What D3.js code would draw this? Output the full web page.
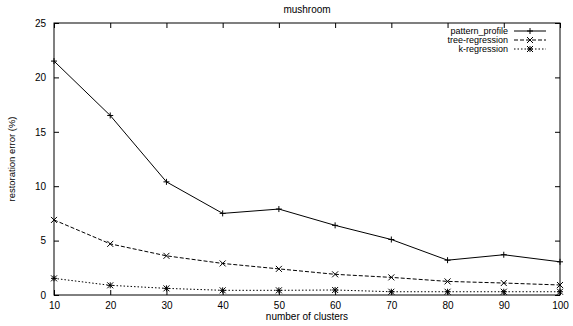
<!DOCTYPE html>
<html>
<head>
<meta charset="utf-8">
<script src="https://cdn.jsdelivr.net/npm/d3@7"></script>
<style>
  body { margin: 0; background: #fff; }
  text { font-family: "Liberation Sans", Arial, sans-serif; }
</style>
</head>
<body>
<div id="chart"></div>
<script>
// mushroom: restoration error vs number of clusters
const clusters = [10, 20, 30, 40, 50, 60, 70, 80, 90, 100];
const patternProfile = [21.5, 16.5, 10.4, 7.5, 7.9, 6.4, 5.1, 3.2, 3.7, 3.05];
const treeRegression = [6.9, 4.7, 3.6, 2.9, 2.4, 1.9, 1.62, 1.25, 1.1, 0.92];
const kRegression = [1.53, 0.89, 0.61, 0.43, 0.43, 0.46, 0.3, 0.3, 0.3, 0.3];
const xTicks = [10, 20, 30, 40, 50, 60, 70, 80, 90, 100];
const yTicks = [0, 5, 10, 15, 20, 25];

const W = 573, H = 326;
const margin = { top: 23, right: 13, bottom: 31, left: 54 };
const iw = W - margin.left - margin.right;
const ih = H - margin.top - margin.bottom;

const svg = d3.select('#chart').append('svg')
  .attr('width', W)
  .attr('height', H);

const g = svg.append('g')
  .attr('transform', `translate(${margin.left},${margin.top})`);

const x = d3.scaleLinear().domain([10, 100]).range([0, iw]);
const y = d3.scaleLinear().domain([0, 25]).range([ih, 0]);

// Axes (gnuplot style: inward ticks, mirrored)
const tk = 5;
const axisStyle = sel => {
  sel.select('.domain').remove();
  sel.selectAll('line').attr('stroke', '#000').attr('stroke-width', 1);
  sel.selectAll('text').attr('font-size', 10).attr('fill', '#000');
};

g.append('g')
  .attr('transform', `translate(0,${ih})`)
  .call(d3.axisBottom(x).tickValues(xTicks).tickSize(-tk).tickPadding(7))
  .call(axisStyle);
g.append('g')
  .call(d3.axisTop(x).tickValues(xTicks).tickSize(-tk).tickFormat(''))
  .call(axisStyle);
g.append('g')
  .call(d3.axisLeft(y).tickValues(yTicks).tickSize(-tk).tickPadding(8))
  .call(axisStyle);
g.append('g')
  .attr('transform', `translate(${iw},0)`)
  .call(d3.axisRight(y).tickValues(yTicks).tickSize(-tk).tickFormat(''))
  .call(axisStyle);

g.append('rect')
  .attr('width', iw)
  .attr('height', ih)
  .attr('fill', 'none')
  .attr('stroke', '#000')
  .attr('stroke-width', 1);

// Point symbols
const sym = {
  plus: s => `M${-s},0H${s}M0,${-s}V${s}`,
  cross: s => `M${-s},${-s}L${s},${s}M${-s},${s}L${s},${-s}`,
  star: s => `M${-s},0H${s}M0,${-s}V${s}M${-s},${-s}L${s},${s}M${-s},${s}L${s},${-s}`
};

const series = [
  { name: 'pattern_profile', values: patternProfile, dash: null, mark: 'plus' },
  { name: 'tree-regression', values: treeRegression, dash: '4,2', mark: 'cross' },
  { name: 'k-regression', values: kRegression, dash: '1.5,2', mark: 'star' }
];

const line = d3.line()
  .x((d, i) => x(clusters[i]))
  .y(d => y(d));

series.forEach(s => {
  g.append('path')
    .datum(s.values)
    .attr('d', line)
    .attr('fill', 'none')
    .attr('stroke', '#000')
    .attr('stroke-width', 1)
    .attr('stroke-dasharray', s.dash);

  g.append('g')
    .selectAll('path')
    .data(s.values)
    .join('path')
    .attr('transform', (d, i) => `translate(${x(clusters[i])},${y(d)})`)
    .attr('d', sym[s.mark](3))
    .attr('fill', 'none')
    .attr('stroke', '#000')
    .attr('stroke-width', 1);
});

// Legend
const legend = svg.append('g');
series.forEach((s, i) => {
  const ly = 31 + i * 9;
  legend.append('text')
    .attr('x', 508)
    .attr('y', ly)
    .attr('dy', '0.35em')
    .attr('text-anchor', 'end')
    .attr('font-size', 9)
    .text(s.name);
  legend.append('line')
    .attr('x1', 514).attr('x2', 546)
    .attr('y1', ly).attr('y2', ly)
    .attr('stroke', '#000')
    .attr('stroke-width', 1)
    .attr('stroke-dasharray', s.dash);
  legend.append('path')
    .attr('transform', `translate(530,${ly})`)
    .attr('d', sym[s.mark](3))
    .attr('fill', 'none')
    .attr('stroke', '#000');
});

// Titles
svg.append('text')
  .attr('x', margin.left + iw / 2)
  .attr('y', 13)
  .attr('text-anchor', 'middle')
  .attr('font-size', 10)
  .text('mushroom');

svg.append('text')
  .attr('x', margin.left + iw / 2)
  .attr('y', 320)
  .attr('text-anchor', 'middle')
  .attr('font-size', 10)
  .text('number of clusters');

svg.append('text')
  .attr('transform', `translate(15,${margin.top + ih / 2}) rotate(-90)`)
  .attr('text-anchor', 'middle')
  .attr('font-size', 9.5)
  .text('restoration error (%)');
</script>
</body>
</html>
